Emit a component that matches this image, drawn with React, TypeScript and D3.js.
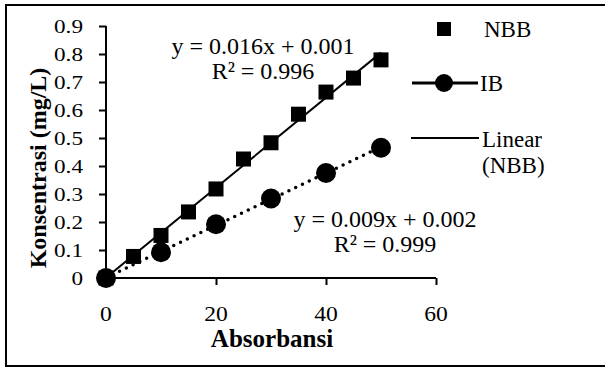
import React, { useEffect, useRef } from 'react';
import * as d3 from 'd3';

// NBB series (squares) and IB series (circles)
const nbbX = [0, 5, 10, 15, 20, 25, 30, 35, 40, 45, 50];
const nbbY = [0, 0.077, 0.152, 0.236, 0.318, 0.425, 0.483, 0.585, 0.664, 0.714, 0.779];
const ibX = [0, 10, 20, 30, 40, 50];
const ibY = [0, 0.092, 0.192, 0.284, 0.375, 0.465];

const xTicks = [0, 20, 40, 60];
const yTicks = [0, 0.1, 0.2, 0.3, 0.4, 0.5, 0.6, 0.7, 0.8, 0.9];

const nbbEquation = ['y = 0.016x + 0.001', 'R² = 0.996'];
const ibEquation = ['y = 0.009x + 0.002', 'R² = 0.999'];

const FONT = "'Liberation Serif', 'Times New Roman', serif";

// least squares fit for trendline
function fit(xs: number[], ys: number[]) {
  const mx = d3.mean(xs)!;
  const my = d3.mean(ys)!;
  let num = 0, den = 0;
  xs.forEach((x, i) => {
    num += (x - mx) * (ys[i] - my);
    den += (x - mx) * (x - mx);
  });
  const slope = num / den;
  return { slope, intercept: my - slope * mx };
}

const App = () => {
  const svgRef = useRef<SVGSVGElement>(null);

  useEffect(() => {
    if (!svgRef.current) return;
    const svg = d3.select(svgRef.current);
    svg.selectAll('*').remove();

    svg.append('rect')
      .attr('x', 6).attr('y', 5)
      .attr('width', 610).attr('height', 361)
      .attr('fill', '#fff')
      .attr('stroke', '#000')
      .attr('stroke-width', 2);

    const x = d3.scaleLinear().domain([0, 60]).range([106, 436]);
    const y = d3.scaleLinear().domain([0, 0.9]).range([278, 26]);

    // Y axis
    const yAxis = svg.append('g')
      .attr('transform', `translate(${x(0)},0)`)
      .call(d3.axisLeft(y).tickValues(yTicks).tickSize(7).tickFormat(() => ''));
    yAxis.select('.domain').attr('stroke-width', 2).attr('d', `M0,${y(0.9)}V${y(0)}`);
    yAxis.selectAll('.tick line').attr('stroke-width', 2);

    // tick labels are drawn a bit wide, like the original
    yTicks.forEach(t => {
      svg.append('text')
        .attr('transform', `translate(83,${y(t) + 6.5}) scale(1.22,1)`)
        .attr('text-anchor', 'end')
        .attr('font-family', FONT).attr('font-size', '19px')
        .text(t === 0 ? '0' : d3.format('.1f')(t));
    });

    // X axis
    const xAxis = svg.append('g')
      .attr('transform', `translate(0,${y(0)})`)
      .call(d3.axisBottom(x).tickValues(xTicks).tickSize(7).tickFormat(() => ''));
    xAxis.select('.domain').attr('stroke-width', 2).attr('d', `M${x(0)},0H${x(60)}`);
    xAxis.selectAll('.tick line').attr('stroke-width', 2);

    xTicks.forEach(t => {
      svg.append('text')
        .attr('transform', `translate(${x(t)},321) scale(1.18,1)`)
        .attr('text-anchor', 'middle')
        .attr('font-family', FONT).attr('font-size', '20px')
        .text(String(t));
    });

    // Axis titles
    svg.append('text')
      .attr('x', 272).attr('y', 347)
      .attr('text-anchor', 'middle')
      .attr('font-family', FONT).attr('font-size', '25px').attr('font-weight', 'bold')
      .text('Absorbansi');

    svg.append('text')
      .attr('transform', 'translate(46,168) rotate(-90)')
      .attr('text-anchor', 'middle')
      .attr('font-family', FONT).attr('font-size', '24px').attr('font-weight', 'bold')
      .text('Konsentrasi (mg/L)');

    // Trendlines
    const f1 = fit(nbbX, nbbY);
    const f2 = fit(ibX, ibY);
    const x0 = d3.min(nbbX)!;
    const x1 = d3.max(nbbX)!;

    svg.append('line')
      .attr('x1', x(x0)).attr('y1', y(f2.intercept + f2.slope * x0))
      .attr('x2', x(x1)).attr('y2', y(f2.intercept + f2.slope * x1))
      .attr('stroke', '#000').attr('stroke-width', 3.5)
      .attr('stroke-linecap', 'round')
      .attr('stroke-dasharray', '0,7.5');

    svg.append('line')
      .attr('x1', x(x0)).attr('y1', y(f1.intercept + f1.slope * x0))
      .attr('x2', x(x1)).attr('y2', y(f1.intercept + f1.slope * x1))
      .attr('stroke', '#000').attr('stroke-width', 2);

    // IB circles
    svg.selectAll('.ib')
      .data(ibX)
      .enter()
      .append('circle')
      .attr('cx', d => x(d))
      .attr('cy', (d, i) => y(ibY[i]))
      .attr('r', 10)
      .attr('fill', '#000');

    // NBB squares
    const s = 15;
    svg.selectAll('.nbb')
      .data(nbbX)
      .enter()
      .append('rect')
      .attr('x', d => x(d) - s / 2)
      .attr('y', (d, i) => y(nbbY[i]) - s / 2)
      .attr('width', s).attr('height', s)
      .attr('fill', '#000');

    // Equations
    const eq = (lines: string[], cx: number, by: number) => {
      lines.forEach((t, i) => {
        svg.append('text')
          .attr('x', cx).attr('y', by + i * 25)
          .attr('text-anchor', 'middle')
          .attr('font-family', FONT).attr('font-size', '24px')
          .text(t);
      });
    };
    eq(nbbEquation, 263, 54);
    eq(ibEquation, 385, 227);

    // Legend
    const leg = svg.append('g').attr('font-family', FONT).attr('font-size', '23px');
    leg.append('rect').attr('x', 437).attr('y', 22).attr('width', 14).attr('height', 14).attr('fill', '#000');
    leg.append('text').attr('x', 484).attr('y', 37).text('NBB');

    leg.append('line').attr('x1', 412).attr('x2', 478).attr('y1', 83).attr('y2', 83)
      .attr('stroke', '#000').attr('stroke-width', 3);
    leg.append('circle').attr('cx', 444).attr('cy', 83).attr('r', 9).attr('fill', '#000');
    leg.append('text').attr('x', 480).attr('y', 91).text('IB');

    leg.append('line').attr('x1', 411).attr('x2', 479).attr('y1', 138).attr('y2', 138)
      .attr('stroke', '#000').attr('stroke-width', 2);
    leg.append('text').attr('x', 482).attr('y', 147).text('Linear');
    leg.append('text').attr('x', 482).attr('y', 173).text('(NBB)');
  }, []);

  return (
    <svg
      ref={svgRef}
      width={605}
      height={368}
      style={{ position: 'absolute', left: 0, top: 0, display: 'block' }}
    />
  );
};

export default App;
